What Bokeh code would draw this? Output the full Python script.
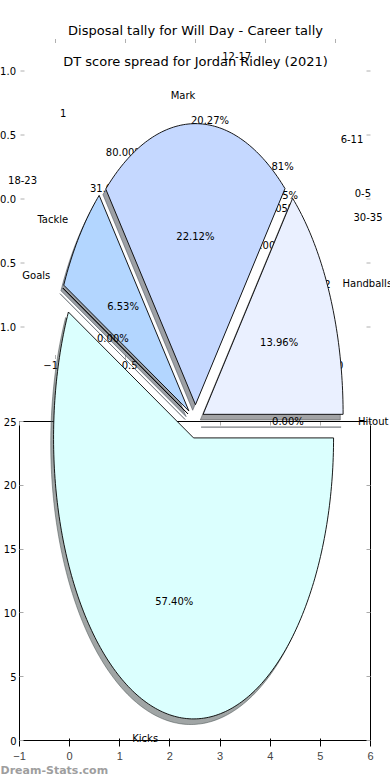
import numpy as np
from bokeh.plotting import figure
from bokeh.models import Range1d, LinearAxis, FixedTicker, ColumnDataSource, CustomJSTickFormatter
from bokeh.core.properties import value
from bokeh.embed import file_html
from bokeh.resources import INLINE

# ---------------- data ----------------
main_title = "Disposal tally for Will Day - Career tally"
dt_title = "DT score spread for Jordan Ridley (2021)"
watermark = "Dream-Stats.com"

disposal_labels = ["Kicks", "Goals", "Tackle", "Mark", "Handballs", "Hitout"]
disposal_values = [57.40, 0.00, 6.53, 22.12, 13.96, 0.00]
disposal_colors = ["#dbfffe", "#c4e0ff", "#b3d6ff", "#c5d8ff", "#eaf0ff", "#d6e6ff"]

dt_labels = ["0-5", "6-11", "12-17", "18-23", "24-29", "30-35"]
dt_values = [1.35, 10.81, 20.27, 31.08, 32.43, 4.05]

games_labels = ["1", "2"]
games_values = [80.00, 20.00]

pie_ticks = [-1.0, -0.5, 0.0, 0.5, 1.0]
pie_tick_labels = ["\u22121.0", "\u22120.5", "0.0", "0.5", "1.0"]

bottom_x_ticks = [-1, 0, 1, 2, 3, 4, 5, 6]
bottom_y_ticks = [0, 5, 10, 15, 20, 25]

# ---------------- layout ----------------
W, H = 390, 780
SX, SY = W / 390.0, H / 780.0
BL = round(19 * SX)
BR = W - round(370 * SX)
BT = round(421 * SY)
BB = H - round(740 * SY)
FX0, FX1, FY0, FY1 = BL, W - BR, BT, H - BB
FONT = "DejaVu Sans"
SMALL = "10px"
BIG = "13px"


def unit_ranges(cx, cy, kx, ky):
    cxf, cyf, kxf, kyf = cx * SX, cy * SY, kx * SX, ky * SY
    return (Range1d((FX0 - cxf) / kxf, (FX1 - cxf) / kxf),
            Range1d((cyf - FY1) / kyf, (cyf - FY0) / kyf))


p = figure(width=W, height=H, x_range=Range1d(-1, 6), y_range=Range1d(0, 25),
           output_backend="svg", toolbar_location=None,
           min_border_left=BL, min_border_right=BR, min_border_top=BT, min_border_bottom=BB)
p.grid.visible = False
p.outline_line_color = "black"
p.outline_line_width = 1
p.background_fill_color = "white"
p.border_fill_color = "white"

dx, dy = unit_ranges(195, 421, 140, 281)
tx, ty = unit_ranges(194.8, 198.3, 145, 132)
kx, ky = unit_ranges(195, 198.5, 140, 128)
p.extra_x_ranges = {"disp": dx, "dt": tx, "tk": kx,
                    "ref": Range1d(FX0 / SX, FX1 / SX)}
p.extra_y_ranges = {"disp": dy, "dt": ty, "tk": ky,
                    "ref": Range1d(FY1 / SY, FY0 / SY)}

p.xaxis.ticker = FixedTicker(ticks=bottom_x_ticks)
p.yaxis.ticker = FixedTicker(ticks=bottom_y_ticks)
p.xaxis.major_label_overrides = {-1: "\u22121"}
top_ax = LinearAxis(ticker=FixedTicker(ticks=bottom_x_ticks),
                    formatter=CustomJSTickFormatter(code="return ''"))
right_ax = LinearAxis(ticker=FixedTicker(ticks=bottom_y_ticks),
                      formatter=CustomJSTickFormatter(code="return ''"))
p.add_layout(top_ax, "above")
p.add_layout(right_ax, "right")
for ax in [p.xaxis[0], p.yaxis[0], top_ax, right_ax]:
    ax.axis_line_color = None
    ax.major_tick_in = 4
    ax.major_tick_out = 0
    ax.major_tick_line_color = "#aaaaaa"
    ax.minor_tick_line_color = None
    ax.major_label_text_font = FONT
    ax.major_label_text_font_size = SMALL
    ax.major_label_text_color = "black"
p.xaxis[0].major_label_standoff = 2
p.yaxis[0].major_label_standoff = 3


def ovl(r):
    r.level = "overlay"
    return r


def txt(x, y, t, rng, align="center", baseline="middle", size=SMALL, color="black",
        style="normal", xo=0, yo=0):
    src = ColumnDataSource(dict(x=list(x), y=list(y), t=list(t)))
    return ovl(p.text("x", "y", "t", source=src, x_range_name=rng, y_range_name=rng,
                      text_align=align, text_baseline=baseline, text_font=value(FONT),
                      text_font_size=size, text_color=color, text_font_style=style,
                      x_offset=xo, y_offset=yo))


# ---- tick marks / labels of the pie axes (under everything) ----
lim = 1.25
tk_arr = np.array(pie_ticks)
n_t = len(tk_arr)
for xs_, ys_, ang in [(np.full(n_t, -lim), tk_arr, 0.0), (np.full(n_t, lim), tk_arr, np.pi),
                      (tk_arr, np.full(n_t, lim), -np.pi / 2), (tk_arr, np.full(n_t, -lim), np.pi / 2)]:
    ovl(p.ray(x=xs_, y=ys_, length=4, length_units="screen", angle=ang,
              line_color="#b0b0b0", line_width=1, x_range_name="tk", y_range_name="tk"))
txt(np.full(n_t, -lim), tk_arr, pie_tick_labels, "tk", align="right", xo=-4.5)
txt(tk_arr, np.full(n_t, -lim), pie_tick_labels, "tk", align="center", baseline="top", yo=2)

# ---- titles ----
txt([195], [29.5], [main_title], "ref", size=BIG)
txt([195], [60.5], [dt_title], "ref", size=BIG)


# ---- pie geometry ----
def pie_geometry(values, counterclock, explode):
    v = np.asarray(values, float)
    frac = v / v.sum()
    sgn = 1.0 if counterclock else -1.0
    edges = sgn * 2 * np.pi * np.concatenate([[0.0], np.cumsum(frac)])
    t1, t2 = edges[:-1], edges[1:]
    mid = 0.5 * (t1 + t2)
    cx = explode * np.cos(mid)
    cy = explode * np.sin(mid)
    xs, ys = [], []
    for a, b, x0, y0 in zip(t1, t2, cx, cy):
        n = max(2, int(abs(b - a) / np.deg2rad(1.0)) + 2)
        ts = np.linspace(a, b, n)
        xs.append(np.concatenate([[x0], x0 + np.cos(ts)]))
        ys.append(np.concatenate([[y0], y0 + np.sin(ts)]))
    return dict(mid=mid, cx=cx, cy=cy, xs=xs, ys=ys)


def pie_texts(g, labels, values, rng, lab_dist=1.1, pct_dist=0.6):
    lx = g["cx"] + lab_dist * np.cos(g["mid"])
    ly = g["cy"] + lab_dist * np.sin(g["mid"])
    for mask, align in [(lx > 0, "left"), (lx <= 0, "right")]:
        idx = np.where(mask)[0]
        txt(lx[idx], ly[idx], [labels[i] for i in idx], rng, align=align)
    px_ = g["cx"] + pct_dist * np.cos(g["mid"])
    py_ = g["cy"] + pct_dist * np.sin(g["mid"])
    txt(px_, py_, ["%1.2f%%" % v for v in values], rng, align="center")


g_dt = pie_geometry(dt_values, True, 0.0)
pie_texts(g_dt, dt_labels, dt_values, "dt")
g_gm = pie_geometry(games_values, True, 0.0)
pie_texts(g_gm, games_labels, games_values, "dt")

# ---- disposal pie with shadows ----
g = pie_geometry(disposal_values, False, 0.06)


def shade(hexc):
    h = hexc.lstrip("#")
    rgb = [int(h[i:i + 2], 16) for i in (0, 2, 4)]
    return "#%02x%02x%02x" % tuple(int(round(0.3 * c)) for c in rgb)


# single-patch glyphs (not culled to the frame)
for xs_, ys_, c in zip(g["xs"], g["ys"], disposal_colors):
    sc = shade(c)
    ovl(p.patch(xs_ - 0.02, ys_ - 0.02, fill_color=sc, fill_alpha=0.5, line_color=sc,
                line_alpha=0.5, line_width=1, x_range_name="disp", y_range_name="disp"))
for xs_, ys_, c in zip(g["xs"], g["ys"], disposal_colors):
    ovl(p.patch(xs_, ys_, fill_color=c, line_color="black", line_width=0.9,
                x_range_name="disp", y_range_name="disp"))
pie_texts(g, disposal_labels, disposal_values, "disp", lab_dist=1.1, pct_dist=0.6)

# ---- watermark ----
txt([0], [770], [watermark], "ref", align="left", size="11px", color="#9e9e9e", style="bold")

open("out.html", "w").write(file_html(p, INLINE))
